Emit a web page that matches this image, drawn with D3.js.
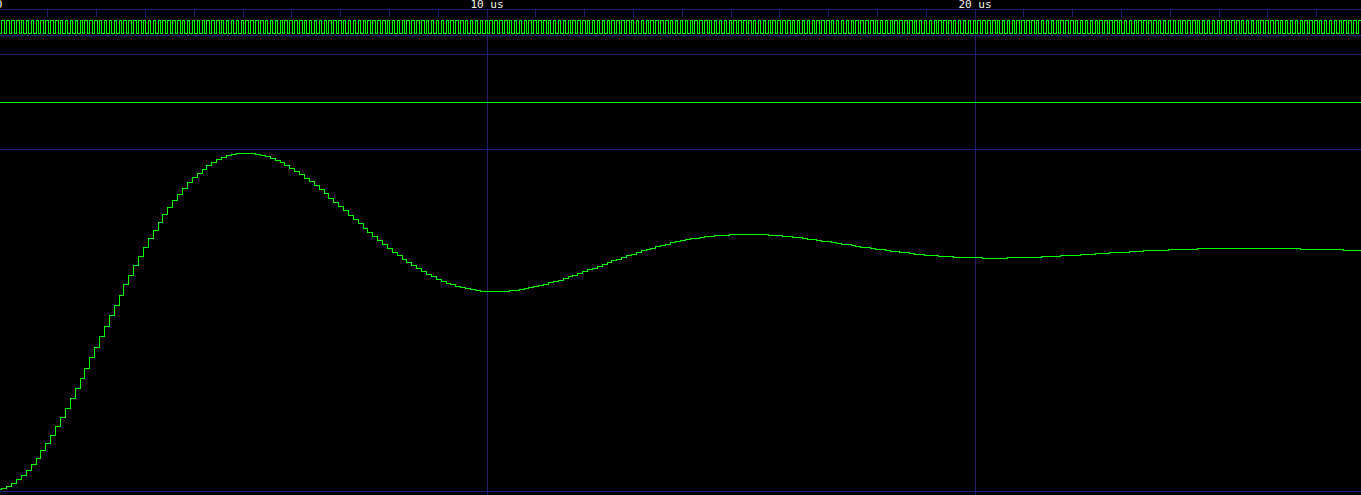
<!DOCTYPE html>
<html><head><meta charset="utf-8">
<script src="https://cdn.jsdelivr.net/npm/d3@7"></script>
<style>html,body{margin:0;padding:0;background:#000;overflow:hidden}svg{display:block}</style>
</head><body><svg id="c" width="1361" height="495"></svg>
<script>
// ---- data ----
const majorTicks = [0, 10, 20];              // us
const tickLabels = ["0", "10 us", "20 us"];
const minorTickStep = 1;                      // us
const timeEnd = 28;                           // us (end of visible window)
const clockPeriod = 0.1;                      // us
const clockRiseOffset = 0.05;                 // us, first rising edge
const samplePeriod = 0.1;                     // us, analog sample update period
const sampleOffset = 0.05;                    // us, first update time
const constSignal = [1];                      // flat trace value
const filterOut = [
  0,1,3,6,10,14,19,25,31,39,
  46,54,63,72,81,91,101,111,121,132,
  142,153,163,174,184,194,205,214,224,233,
  242,251,259,267,275,282,289,295,301,307,
  312,316,320,324,327,330,332,334,335,336,
  336,336,336,335,334,333,331,329,327,324,
  321,318,315,311,308,304,300,296,291,287,
  283,279,274,270,266,261,257,253,249,245,
  241,237,234,230,227,224,221,218,215,213,
  210,208,206,205,203,202,201,200,199,198,
  198,198,198,198,198,199,199,200,201,202,
  203,204,205,207,208,209,211,213,214,216,
  218,220,221,223,225,227,229,230,232,234,
  235,237,239,240,241,243,244,245,247,248,
  249,250,251,251,252,253,253,254,254,254,
  255,255,255,255,255,255,255,255,254,254,
  254,253,253,252,252,251,250,250,249,248,
  248,247,246,245,245,244,243,242,242,241,
  240,240,239,238,238,237,237,236,235,235,
  234,234,234,233,233,233,232,232,232,232,
  232,232,231,231,231,231,231,232,232,232,
  232,232,232,232,233,233,233,233,234,234,
  234,234,235,235,235,236,236,236,237,237,
  237,237,238,238,238,239,239,239,239,239,
  240,240,240,240,240,240,241,241,241,241,
  241,241,241,241,241,241,241,241,241,241,
  241,241,241,241,241,241,241,240,240,240,
  240,240,240,240,240,240,239,239,239,239
];

// ---- layout ----
const W = 1361, H = 495;
const GRID = "#202070", TRACE = "#00ff00", TEXT = "#f4f4e8";
const svg = d3.select("#c");
svg.append("rect").attr("width", W).attr("height", H).attr("fill", "#000");

const x = d3.scaleLinear().domain([0, 20]).range([-1, 975]);
const px = v => Math.floor(x(v)) + 0.5;

const timelineY = 9;
const rowLines = [9, 35, 54, 149, 491];

// vertical major grid
svg.append("g").selectAll("line").data(majorTicks).join("line")
  .attr("x1", d => px(d)).attr("x2", d => px(d))
  .attr("y1", timelineY).attr("y2", H)
  .attr("stroke", GRID).attr("stroke-width", 1).attr("shape-rendering", "crispEdges");

// horizontal row lines
svg.append("g").selectAll("line").data(rowLines).join("line")
  .attr("x1", 0).attr("x2", W)
  .attr("y1", d => d + 0.5).attr("y2", d => d + 0.5)
  .attr("stroke", GRID).attr("stroke-width", 1).attr("shape-rendering", "crispEdges");

// minor ticks
const minorTicks = d3.range(minorTickStep, timeEnd, minorTickStep).filter(t => majorTicks.indexOf(t) < 0);
svg.append("g").selectAll("line").data(minorTicks).join("line")
  .attr("x1", d => px(d)).attr("x2", d => px(d))
  .attr("y1", timelineY).attr("y2", timelineY + 8)
  .attr("stroke", GRID).attr("stroke-width", 1).attr("shape-rendering", "crispEdges");

// labels
svg.append("g").selectAll("text").data(majorTicks).join("text")
  .attr("x", d => x(d)).attr("y", 8)
  .attr("text-anchor", "middle")
  .attr("font-family", "'DejaVu Sans Mono', monospace")
  .attr("font-size", "11px")
  .attr("fill", TEXT)
  .text((d, i) => tickLabels[i]);

// clock trace
const clkHighY = 20.5, clkLowY = 33.5;
const clkEdges = [{t: 0, v: 0}];
d3.range(0, Math.ceil(timeEnd / clockPeriod)).forEach(k => {
  clkEdges.push({t: clockRiseOffset + k * clockPeriod, v: 1});
  clkEdges.push({t: (k + 1) * clockPeriod, v: 0});
});
const clkLine = d3.line()
  .x(d => Math.round(x(d.t)) + 0.5)
  .y(d => d.v ? clkHighY : clkLowY)
  .curve(d3.curveStepAfter);
svg.append("path").attr("d", clkLine(clkEdges))
  .attr("fill", "none").attr("stroke", TRACE).attr("stroke-width", 1)
  .attr("shape-rendering", "crispEdges");

// constant trace (analog with single value -> drawn mid-row)
const yConst = d3.scaleLinear().domain([constSignal[0] - 1, constSignal[0] + 1]).range([150, 55]);
const constPts = [{t: 0, v: constSignal[0]}, {t: timeEnd, v: constSignal[0]}];
const constLine = d3.line()
  .x(d => Math.round(x(d.t)) + 0.5)
  .y(d => Math.floor(yConst(d.v)) + 0.5);
svg.append("path").attr("d", constLine(constPts))
  .attr("fill", "none").attr("stroke", TRACE).attr("stroke-width", 1)
  .attr("shape-rendering", "crispEdges");

// analog step trace
const y = d3.scaleLinear().domain(d3.extent(filterOut)).range([489, 153]);
const pts = filterOut.map((v, k) => ({t: k === 0 ? 0 : sampleOffset + (k - 1) * samplePeriod, v}));
pts.push({t: timeEnd, v: filterOut[filterOut.length - 1]});
const aLine = d3.line()
  .x(d => Math.round(x(d.t)) + 0.5)
  .y(d => Math.round(y(d.v)) + 0.5)
  .curve(d3.curveStepAfter);
svg.append("path").attr("d", aLine(pts))
  .attr("fill", "none").attr("stroke", TRACE).attr("stroke-width", 1)
  .attr("shape-rendering", "crispEdges");
</script>
</body></html>
